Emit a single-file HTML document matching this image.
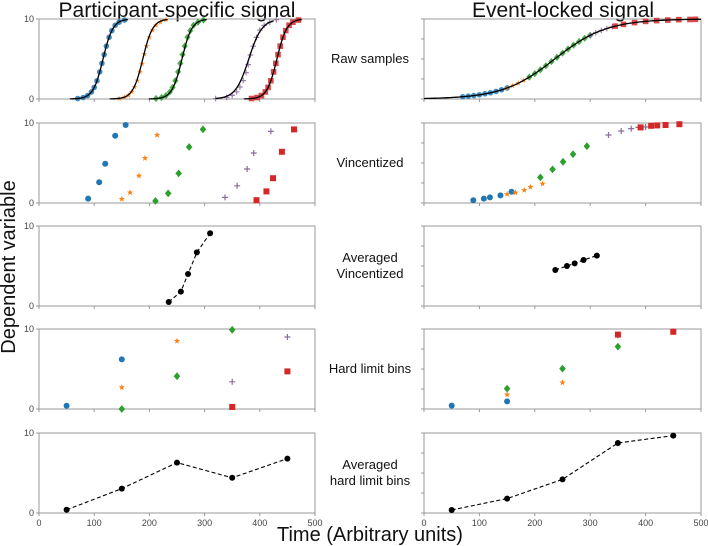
<!DOCTYPE html>
<html><head><meta charset="utf-8"><style>
html,body{margin:0;padding:0;background:#fff;width:708px;height:546px;overflow:hidden}
svg text{font-family:"Liberation Sans","DejaVu Sans",sans-serif}
</style></head><body>
<svg id="chart" width="708" height="546" viewBox="0 0 708 546" xmlns="http://www.w3.org/2000/svg">
<text x="177" y="17" font-size="21" text-anchor="middle" fill="#111">Participant-specific signal</text>
<text x="563" y="17" font-size="21" text-anchor="middle" fill="#111">Event-locked signal</text>
<text transform="translate(15,267) rotate(-90)" font-size="20" text-anchor="middle" fill="#111">Dependent variable</text>
<text x="370" y="541" font-size="20" text-anchor="middle" fill="#111">Time (Arbitrary units)</text>
<g id="rows"></g>
</svg>
<script>
const COLORS=['#1f77b4','#ff7f0e','#2ca02c','#8c6d9e','#d62728'];
const MARKERS=['circle','star','diamond','plus','square'];
const rowLabels=[['Raw samples'],['Vincentized'],['Averaged','Vincentized'],['Hard limit bins'],['Averaged','hard limit bins']];
const xTicks=[0,100,200,300,400,500];
// Raw samples (left): per participant x and y
const rawX=[[70,80,88,95,100,105,110,114,118,122,127,132,138,145,155],
[145,155,162,168,173,178,183,187,191,195,200,206,212,220,230],
[212,222,230,237,242,247,252,256,260,264,269,274,280,288,298],
[320,340,350,358,364,370,375,379,383,388,394,400,408,418,430],
[385,395,403,410,415,420,425,429,433,437,442,447,453,460,470]];
const rawY=[[0.06,0.18,0.43,0.88,1.45,2.28,3.39,4.45,5.55,6.61,7.72,8.55,9.22,9.6,9.87],
[0.05,0.2,0.45,0.9,1.5,2.3,3.4,4.4,5.6,6.6,7.7,8.6,9.2,9.6,9.9],
[0.06,0.18,0.43,0.88,1.45,2.28,3.39,4.45,5.55,6.61,7.72,8.55,9.22,9.6,9.87],
[0.05,0.2,0.45,0.9,1.5,2.3,3.3,4.3,5.5,6.6,7.7,8.6,9.2,9.6,9.9],
[0.06,0.18,0.43,0.88,1.45,2.28,3.39,4.45,5.55,6.61,7.72,8.55,9.22,9.6,9.87]];
const rawCenter=[116,188,259,380,431];
const rawScale=[9,9,9,12,9];
// Event-locked raw samples (right)
const evX=[[70,80,90,100,110,120,130,140,150],[150,160,170,180,190],[190,200,210,220,230,240,250,260,270,280,290,300],[300,310,320,330,340],[345,360,380,400,420,440,460,480,490]];
const evY=[[0.28,0.35,0.43,0.53,0.65,0.78,0.95,1.15,1.38],[1.38,1.66,1.97,2.33,2.73],[2.73,3.17,3.65,4.16,4.68,5.21,5.74,6.25,6.73,7.18,7.59,7.96],[7.96,8.28,8.57,8.81,9.02],[9.11,9.33,9.55,9.7,9.8,9.87,9.92,9.94,9.96]];
const evCenter=236, evScale=47;
// Vincentized
const vinX=[[89,109,120,138,157],[150,165,181,192,214],[211,234,253,272,297],[337,359,377,389,420],[394,412,424,440,462]];
const vinY=[[0.55,2.6,4.9,8.4,9.75],[0.5,1.3,3.4,5.6,8.5],[0.25,1.2,3.7,7.0,9.2],[0.7,2.15,4.25,6.25,8.95],[0.35,1.45,3.1,6.4,9.2]];
const vinEvX=[[89,108,119,138,158],[150,165,181,192,214],[210,232,251,269,294],[333,356,374,387,400],[391,410,421,436,461]];
const vinEvY=[[0.35,0.55,0.7,0.95,1.4],[1.1,1.3,1.6,2.0,2.4],[3.2,4.2,5.15,6.1,7.1],[8.5,9.0,9.3,9.45,9.5],[9.45,9.65,9.7,9.75,9.85]];
// Averaged Vincentized
const avgVinX=[235,257,270,286,310];
const avgVinY=[0.5,1.8,4.0,6.7,9.1];
const avgVinEvX=[237,258,272,288,312];
const avgVinEvY=[4.5,5.0,5.33,5.75,6.3];
// Hard limit bins
const binX=[[50,150],[150,250],[150,250,350],[350,450],[350,450]];
const binY=[[0.4,6.2],[2.7,8.5],[0,4.1,9.9],[3.4,9.0],[0.25,4.7]];
const binEvY=[[0.42,0.96],[1.8,3.3],[2.55,5.05,7.8],[9.2,9.7],[9.3,9.65]];
// Averaged hard limit bins
const avgBinX=[50,150,250,350,450];
const avgBinY=[0.4,3.05,6.3,4.4,6.8];
const avgBinEvY=[0.38,1.8,4.2,8.75,9.67];

const NS='http://www.w3.org/2000/svg';
const root=document.getElementById('rows');
const rowTops=[19,123,226,329,433], rowH=80;
const cols=[{x0:39,x1:315},{x0:424,x1:701}];
function mk(tag,attrs,parent){const e=document.createElementNS(NS,tag);for(const k in attrs)e.setAttribute(k,attrs[k]);(parent||root).appendChild(e);return e;}
function sx(c,v){return cols[c].x0+(cols[c].x1-cols[c].x0)*v/500;}
function sy(r,v){return rowTops[r]+rowH-rowH*v/10;}
function marker(g,type,x,y,s,color,op){
  let e;
  if(type==='circle'){e=mk('circle',{cx:x,cy:y,r:s,fill:color,'fill-opacity':op},g);}
  else if(type==='square'){e=mk('rect',{x:x-s,y:y-s,width:2*s,height:2*s,fill:color,'fill-opacity':op},g);}
  else if(type==='diamond'){e=mk('polygon',{points:`${x},${y-s*1.3} ${x+s*1.1},${y} ${x},${y+s*1.3} ${x-s*1.1},${y}`,fill:color,'fill-opacity':op},g);}
  else if(type==='star'){let p=[];for(let i=0;i<10;i++){const a=-Math.PI/2+i*Math.PI/5,rr=i%2?s*0.45:s*1.1;p.push((x+rr*Math.cos(a)).toFixed(2)+','+(y+rr*Math.sin(a)).toFixed(2));}e=mk('polygon',{points:p.join(' '),fill:color,'fill-opacity':op},g);}
  else {e=mk('path',{d:`M${x-s},${y}H${x+s}M${x},${y-s}V${y+s}`,stroke:color,'stroke-width':1.2,'stroke-opacity':op,fill:'none'},g);}
  
  
  return e;
}
for(let r=0;r<5;r++){
  for(let c=0;c<2;c++){
    const g=mk('g',{});
    
    
    const x0=cols[c].x0,x1=cols[c].x1,y0=rowTops[r],y1=y0+rowH;
    const fr=mk('rect',{x:x0,y:y0,width:x1-x0,height:rowH,fill:'none',stroke:'#999','stroke-width':1},g);
    
    
    xTicks.forEach(t=>{const X=sx(c,t);mk('line',{x1:X,x2:X,y1:y1,y2:y1+3,stroke:'#999'},g);
      if(r===4){const tl=mk('text',{x:X,y:y1+13,'font-size':9,'text-anchor':'middle',fill:'#444'},g);tl.textContent=t;
        
        }});
    const yt=c===0?[0,10]:[0,2.5,5,7.5,10];
    yt.forEach(t=>{const Y=sy(r,t);mk('line',{x1:x0-3,x2:x0,y1:Y,y2:Y,stroke:'#999'},g);
      if(c===0){const tl=mk('text',{x:x0-5,y:Y+3,'font-size':9,'text-anchor':'end',fill:'#444'},g);tl.textContent=t;
        
        }});
    if(r===0){
      if(c===0){
        for(let p=0;p<5;p++){
          rawX[p].forEach((v,i)=>marker(g,MARKERS[p],sx(0,v),sy(0,rawY[p][i]),2.8,COLORS[p],0.85));
          let d='';for(let v=rawCenter[p]-60;v<=rawCenter[p]+45;v+=1){const yy=10/(1+Math.exp(-(v-rawCenter[p])/rawScale[p]));d+=(d?'L':'M')+sx(0,v).toFixed(1)+','+sy(0,yy).toFixed(1);}
          const l=mk('path',{d:d,fill:'none',stroke:'#000','stroke-width':1.3},g);
          
          
        }
      } else {
        for(let p=0;p<5;p++) evX[p].forEach((v,i)=>marker(g,MARKERS[p],sx(1,v),sy(0,evY[p][i]),2.8,COLORS[p],0.85));
        let d='';for(let v=0;v<=500;v+=2){const yy=10/(1+Math.exp(-(v-evCenter)/evScale));d+=(d?'L':'M')+sx(1,v).toFixed(1)+','+sy(0,yy).toFixed(1);}
        const l=mk('path',{d:d,fill:'none',stroke:'#000','stroke-width':1.3},g);
        
        
      }
    } else if(r===1){
      const X=c?vinEvX:vinX,Y=c?vinEvY:vinY;
      for(let p=0;p<5;p++) X[p].forEach((v,i)=>marker(g,MARKERS[p],sx(c,v),sy(1,Y[p][i]),3,COLORS[p],1));
    } else if(r===3){
      const Y=c?binEvY:binY;
      for(let p=0;p<5;p++) binX[p].forEach((v,i)=>marker(g,MARKERS[p],sx(c,v),sy(3,Y[p][i]),3,COLORS[p],1));
    } else {
      const X=r===2?(c?avgVinEvX:avgVinX):avgBinX;
      const Y=r===2?(c?avgVinEvY:avgVinY):(c?avgBinEvY:avgBinY);
      const d=X.map((v,i)=>(i?'L':'M')+sx(c,v).toFixed(1)+','+sy(r,Y[i]).toFixed(1)).join('');
      const l=mk('path',{d:d,fill:'none',stroke:'#000','stroke-width':1.1,'stroke-dasharray':'4,2.5'},g);
      
      
      X.forEach((v,i)=>marker(g,'circle',sx(c,v),sy(r,Y[i]),3,'#000',1));
    }
  }
  const lb=rowLabels[r];
  const t=mk('text',{x:370,'font-size':13,'text-anchor':'middle',fill:'#111'});
  
  
  const cy=rowTops[r]+rowH/2-(lb.length-1)*8+4;
  lb.forEach((s,i)=>{const ts=mk('tspan',{x:370,y:cy+i*16},t);ts.textContent=s;});
}
</script>
</body></html>
